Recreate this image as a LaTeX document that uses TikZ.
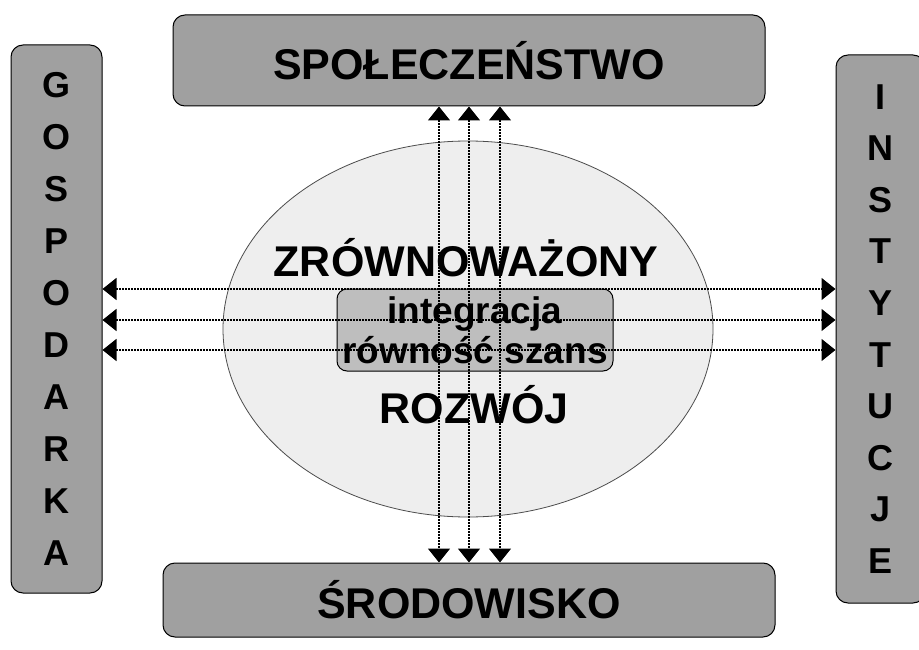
\documentclass[tikz,border=0pt]{standalone}
\usepackage{fontspec}
\setmainfont{Liberation Sans}
\usetikzlibrary{arrows.meta,shapes.geometric}
\definecolor{panelgray}{HTML}{A0A0A0}
\definecolor{innergray}{HTML}{BEBEBE}
\definecolor{ellgray}{HTML}{EEEEEE}
\tikzset{
  panel/.style={draw=black, fill=panelgray, rounded corners=12pt, line width=1pt},
  bigtext/.style={font=\fontsize{43}{50}\selectfont\bfseries},
  column/.style={panel, align=center, font=\fontsize{36}{52}\selectfont\bfseries},
  flow/.style={line width=1.5pt, dash pattern=on 1.5pt off 1.5pt,
    {Triangle[width=22pt,length=14pt]}-{Triangle[width=22pt,length=14pt]}},
}
\begin{document}
\begin{tikzpicture}[x=1pt,y=-1pt]    % zrownowazony rozwoj, four sides
\useasboundingbox (0,0) rectangle (919,650);
\fill[white] (0,0) rectangle (919,650);
\node[ellipse, draw=black!70, line width=0.8pt, fill=ellgray, minimum width=490pt, minimum height=376pt] (core) at (468,329) {};
\node[panel, bigtext, minimum width=592pt, minimum height=91pt] (spol) at (469,60.5) {SPOŁECZEŃSTWO};
\node[panel, bigtext, minimum width=612pt, minimum height=74pt] (srod) at (469,600) {ŚRODOWISKO};
\node[column, minimum width=91pt, minimum height=548pt] (gosp) at (56.5,319)
    {G\\O\\S\\P\\O\\D\\A\\R\\K\\A};
\node[column, font=\fontsize{36}{51.6}\selectfont\bfseries, minimum width=89pt, minimum height=548pt] (inst) at (880.5,329)
    {I\\N\\S\\T\\Y\\T\\U\\C\\J\\E};
\node[bigtext] (zrow) at (466,258) {ZRÓWNOWAŻONY};
\node[bigtext] (rozw) at (474,405) {ROZWÓJ};
\node[draw=black, fill=innergray, rounded corners=10pt, line width=1pt, minimum width=276pt, minimum height=82pt,
    align=center, font=\fontsize{37}{40}\selectfont\bfseries] (integ) at (475,330) {integracja\\równość szans};
% links between the sides
\foreach \x in {439,469,500}
  \draw[flow] (\x,0 |- spol.south) -- (\x,0 |- srod.north);
\foreach \y in {289,320,350}
  \draw[flow] (gosp.east |- 0,\y) -- (inst.west |- 0,\y);
\end{tikzpicture}
\end{document}
